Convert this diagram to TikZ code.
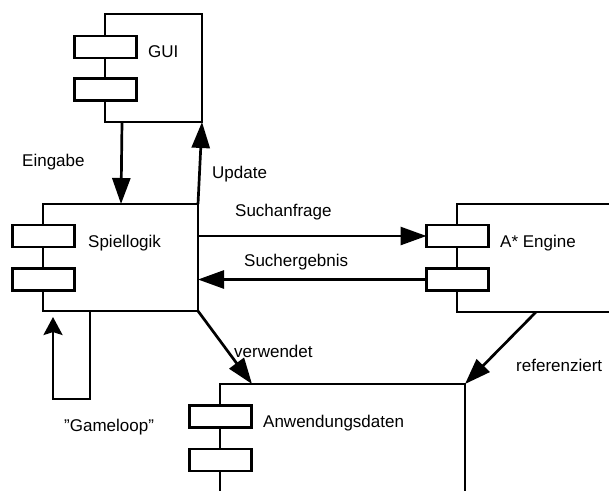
\documentclass[tikz,border=0pt]{standalone}
\usepackage{fontspec}
\setmainfont{Liberation Sans}
\usetikzlibrary{arrows.meta,calc}
\begin{document}
\begin{tikzpicture}[x=1pt,y=-1pt,
  box/.style={draw,line width=2.7pt,anchor=north west,inner sep=0pt,outer sep=0pt},
  tab/.style={draw,fill=white,line width=2.7pt,inner sep=0pt,outer sep=0pt,minimum width=62pt,minimum height=22pt},
  lbl/.style={anchor=base west,inner sep=0pt,font=\fontsize{17}{20}\selectfont},
  arr/.style={line width=2.7pt,-{Triangle[length=26pt,width=18pt]}},
  looparr/.style={line width=2.7pt,-{Stealth[length=18pt,width=19pt,inset=3pt]}}]
\useasboundingbox (0,0) rectangle (609,490);
\fill[white] (0,0) rectangle (609,490);
\clip (0,0) rectangle (609,490);
% boxes
\node[box,minimum width=97pt,minimum height=108pt] (gui) at (105,14) {};
\node[box,minimum width=155pt,minimum height=107pt] (spl) at (43,204) {};
\node[box,minimum width=200pt,minimum height=108pt] (eng) at (457,204) {};
\node[box,minimum width=245pt,minimum height=150pt] (anw) at (220,384) {};
% tabs
\node[tab] (g1) at ($(gui.north west)+(0.5,33)$) {};
\node[tab] (g2) at ($(gui.north west)+(0.5,75.5)$) {};
\node[tab] (s1) at ($(spl.north west)+(0.5,32)$) {};
\node[tab] (s2) at ($(spl.north west)+(0.5,75.5)$) {};
\node[tab] (e1) at ($(eng.north west)+(0.5,32)$) {};
\node[tab] (e2) at ($(eng.north west)+(0.5,75.5)$) {};
\node[tab] (a1) at ($(anw.north west)+(0.5,32.5)$) {};
\node[tab] (a2) at ($(anw.north west)+(0.5,76)$) {};
% names
\node[lbl] (tg) at ($(gui.north west)+(43,43)$) {GUI};
\node[lbl] (ts) at ($(spl.north west)+(45,43)$) {Spiellogik};
\node[lbl] (te) at ($(eng.north west)+(43,43)$) {A* Engine};
\node[lbl] (ta) at ($(anw.north west)+(43,43)$) {Anwendungsdaten};
% connectors
\draw[arr] ($(gui.south west)+(17,0)$) -- ($(spl.north west)+(78,0)$);
\draw[arr] (spl.north east) -- (gui.south east);
\draw[arr] (e1.west -| spl.east) -- (e1.west);
\draw[arr] (e2.west) -- (e2.west -| spl.east);
\draw[arr] (spl.south east) -- ($(anw.north west)+(32,0)$);
\draw[arr] ($(eng.south west)+(79,0)$) -- (anw.north east);
\coordinate (gl) at (53,399);
\draw[looparr] ($(spl.south west)+(47,0)$) |- (gl) -- ($(spl.south west)+(10,6)$);
% connector labels
\node[lbl] (le) at (22,166) {Eingabe};
\node[lbl] (lu) at (212,178) {Update};
\node[lbl] (lsa) at (235,216) {Suchanfrage};
\node[lbl] (lse) at (244,266) {Suchergebnis};
\node[lbl] (lv) at (234,357) {verwendet};
\node[lbl] (lr) at (516,371) {referenziert};
\node[lbl] (lg) at (64,431) {\symbol{34}Gameloop\symbol{34}};
\end{tikzpicture}
\end{document}
